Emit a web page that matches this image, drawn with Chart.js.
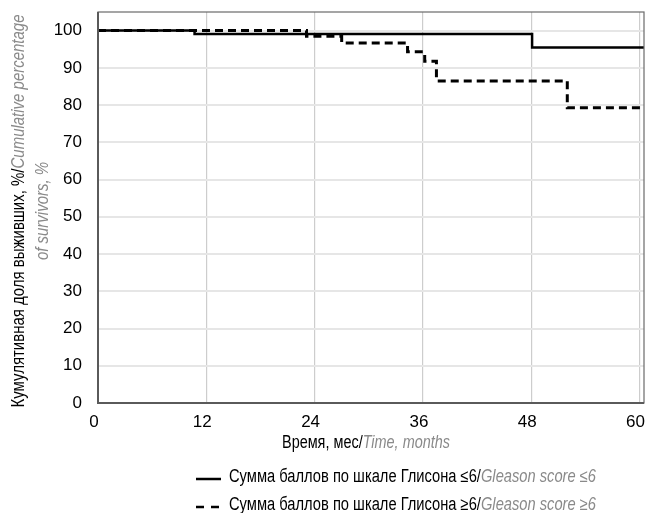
<!DOCTYPE html>
<html><head><meta charset="utf-8">
<script src="https://cdn.jsdelivr.net/npm/chart.js@4/dist/chart.umd.min.js"></script>
<style>html,body{margin:0;padding:0;background:#fff}canvas{display:block}</style>
</head><body>
<canvas id="c" width="647" height="513"></canvas>
<script>
// Data
const xTicks = [0, 12, 24, 36, 48, 60];
const yTicks = [0, 10, 20, 30, 40, 50, 60, 70, 80, 90, 100];
const lowTimes = [0, 10.7, 48.1, 60.5];
const lowValues = [100, 99.1, 95.5, 95.5];
const highTimes = [0, 23.1, 27.0, 34.3, 36.2, 37.5, 52.0, 60.5];
const highValues = [100, 98.5, 96.7, 94.3, 91.8, 86.5, 79.3, 79.3];
const seriesNames = ['Сумма баллов по шкале Глисона ≤6/', 'Сумма баллов по шкале Глисона ≥6/'];
const seriesNamesEn = ['Gleason score ≤6', 'Gleason score ≥6'];
const yTitleRu = 'Кумулятивная доля выживших, %/';
const yTitleEn1 = 'Cumulative percentage';
const yTitleEn2 = 'of survivors, %';
const xTitleRu = 'Время, мес/';
const xTitleEn = 'Time, months';

const FAM = "'Liberation Sans',Arial,sans-serif";
const GRAY = '#8a8a8a';

function pts(t, v) { return t.map((x, i) => ({x: x, y: v[i]})); }

function widthOf(ctx, parts) {
  let w = 0;
  parts.forEach(p => { ctx.font = p.font; w += ctx.measureText(p.text).width; });
  return w;
}
function drawParts(ctx, parts, x0) {
  let cx = x0;
  ctx.textAlign = 'left';
  parts.forEach(p => {
    ctx.font = p.font; ctx.fillStyle = p.color;
    ctx.fillText(p.text, cx, 0);
    cx += ctx.measureText(p.text).width;
  });
}

const decor = {
  id: 'decor',
  afterDraw(chart) {
    const ctx = chart.ctx, a = chart.chartArea;
    ctx.save();
    ctx.strokeStyle = '#6a6a6a';
    ctx.lineWidth = 1.2;
    ctx.strokeRect(a.left, a.top, a.right - a.left, a.bottom - a.top);
    ctx.lineWidth = 2;
    ctx.strokeStyle = '#5a5a5a';
    ctx.beginPath();
    ctx.moveTo(a.left, a.top); ctx.lineTo(a.left, a.bottom); ctx.lineTo(a.right, a.bottom);
    ctx.stroke();
    ctx.restore();

    const fN = '18px ' + FAM, fI = 'italic 18px ' + FAM;
    const l1 = [{text: yTitleRu, font: fN, color: '#000'}, {text: yTitleEn1, font: fI, color: GRAY}];
    const l2 = [{text: yTitleEn2, font: fI, color: GRAY}];
    ctx.save();
    ctx.textBaseline = 'middle';
    const w1 = widthOf(ctx, l1), k = 393 / w1;
    const w2 = widthOf(ctx, l2);
    ctx.translate(19, 211);
    ctx.rotate(-Math.PI / 2);
    ctx.save(); ctx.scale(k, 1); drawParts(ctx, l1, -w1 / 2); ctx.restore();
    ctx.save(); ctx.translate(0, 24); ctx.scale(k, 1); drawParts(ctx, l2, -w2 / 2); ctx.restore();
    ctx.restore();

    const xt = [{text: xTitleRu, font: fN, color: '#000'}, {text: xTitleEn, font: fI, color: GRAY}];
    ctx.save();
    ctx.textBaseline = 'middle';
    const wx = widthOf(ctx, xt), kx = 168 / wx;
    ctx.translate(366, 443);
    ctx.scale(kx, 1);
    drawParts(ctx, xt, -wx / 2);
    ctx.restore();

    ctx.save();
    ctx.strokeStyle = '#000';
    ctx.lineWidth = 2.5;
    ctx.beginPath(); ctx.moveTo(196, 479); ctx.lineTo(221, 479); ctx.stroke();
    ctx.setLineDash([8, 7]);
    ctx.beginPath(); ctx.moveTo(196, 507); ctx.lineTo(221, 507); ctx.stroke();
    ctx.setLineDash([]);
    ctx.textBaseline = 'middle';
    const rows = [
      [{text: seriesNames[0], font: fN, color: '#000'}, {text: seriesNamesEn[0], font: fI, color: GRAY}],
      [{text: seriesNames[1], font: fN, color: '#000'}, {text: seriesNamesEn[1], font: fI, color: GRAY}]
    ];
    const wl = widthOf(ctx, rows[0]), kl = 367 / wl;
    [477, 505].forEach((y, i) => {
      ctx.save(); ctx.translate(229, y); ctx.scale(kl, 1); drawParts(ctx, rows[i], 0); ctx.restore();
    });
    ctx.restore();
  }
};

function zeroPad(s) { s.paddingTop = 0; s.paddingBottom = 0; s.paddingLeft = 0; s.paddingRight = 0; }

new Chart(document.getElementById('c'), {
  type: 'line',
  data: {
    datasets: [
      {label: seriesNames[0] + seriesNamesEn[0], data: pts(lowTimes, lowValues), stepped: 'before',
       borderColor: '#000', borderWidth: 2.5, pointRadius: 0, fill: false},
      {label: seriesNames[1] + seriesNamesEn[1], data: pts(highTimes, highValues), stepped: 'before',
       borderColor: '#000', borderWidth: 3, borderDash: [8, 5], pointRadius: 0, fill: false}
    ]
  },
  options: {
    responsive: false,
    devicePixelRatio: 1,
    animation: false,
    layout: {padding: {top: 12, right: 3, left: 0, bottom: 0}},
    plugins: {legend: {display: false}, tooltip: {enabled: false}},
    scales: {
      x: {
        type: 'linear', min: 0, max: 60.5,
        afterBuildTicks: s => { s.ticks = xTicks.map(v => ({value: v})); },
        afterFit: s => { s.height = 110; zeroPad(s); },
        border: {display: false},
        grid: {drawTicks: false, color: c => (c.tick && c.tick.value === 0) ? 'rgba(0,0,0,0)' : '#cdcdcd', lineWidth: 1.2},
        ticks: {font: {family: FAM, size: 17}, color: '#000', padding: 9, labelOffset: -4, maxRotation: 0, autoSkip: false}
      },
      y: {
        min: 0, max: 105,
        afterBuildTicks: s => { s.ticks = yTicks.map(v => ({value: v})); },
        afterFit: s => { s.width = 98; zeroPad(s); },
        border: {display: false},
        grid: {drawTicks: false, color: c => (c.tick && c.tick.value === 0) ? 'rgba(0,0,0,0)' : '#e6e6e6', lineWidth: 2},
        ticks: {font: {family: FAM, size: 17}, color: '#000', padding: 16}
      }
    }
  },
  plugins: [decor]
});
</script>
</body></html>
